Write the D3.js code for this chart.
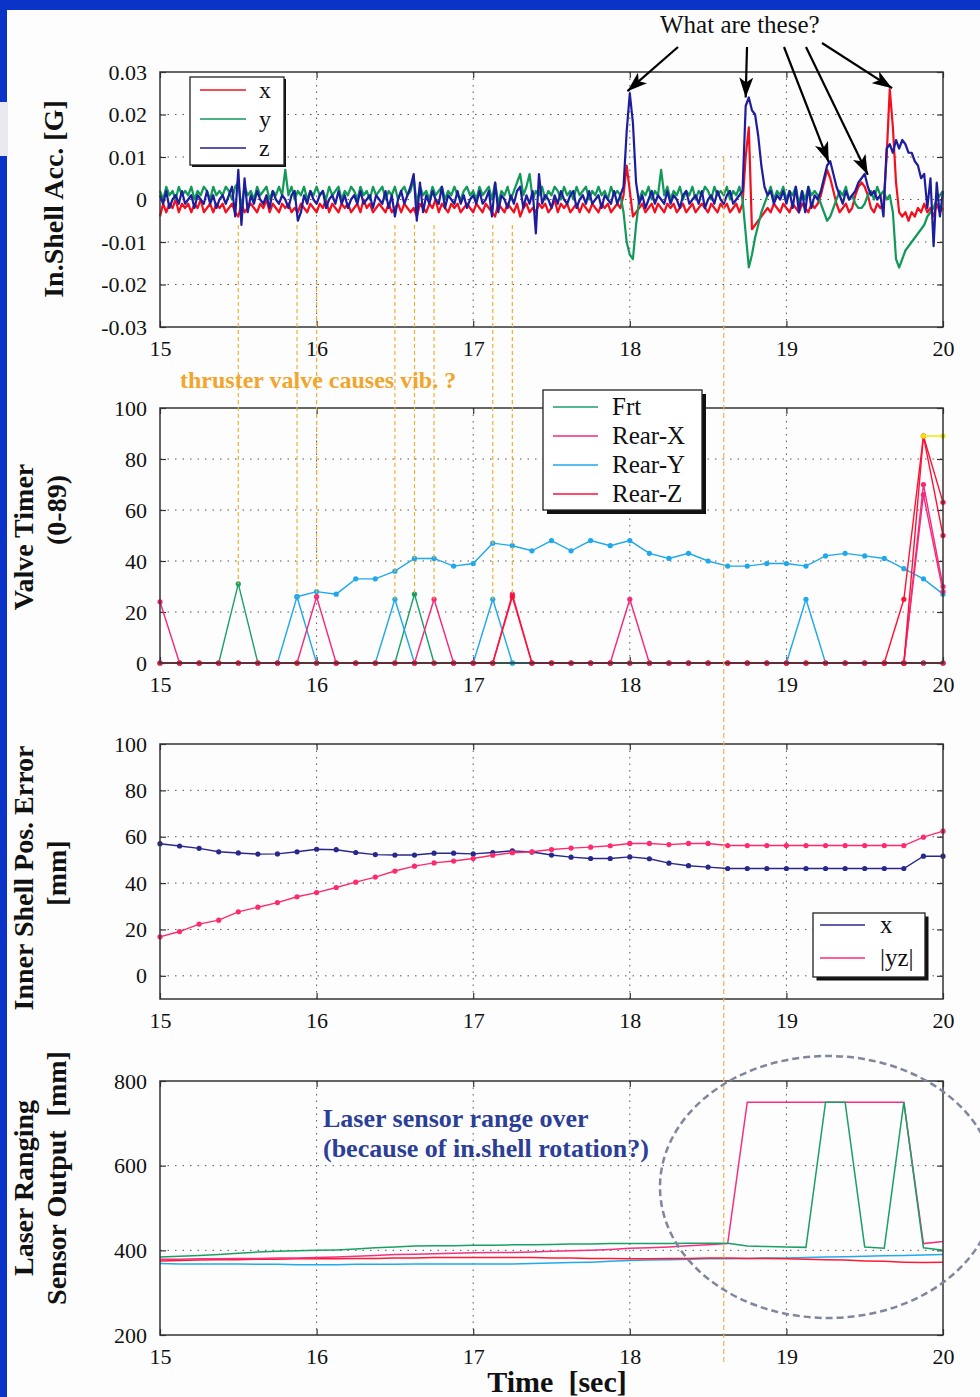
<!DOCTYPE html>
<html>
<head>
<meta charset="utf-8">
<script src="https://cdn.jsdelivr.net/npm/d3@7"></script>
<style>
  body { margin: 0; background: #fff; }
  svg { display: block; }
</style>
</head>
<body>
<div id="chart"></div>
<script>
// ---------- data ----------
const xTicks = [15, 16, 17, 18, 19, 20];

// inner shell acceleration [mG], one sample every 0.02 s from 15.00 s
const accStart = 15, accStep = 0.02;
const accX = [
  -4,-1,-3,-1,-2,0,-3,-1,-2,-1,
  -3,-1,-2,0,-3,-2,-1,-3,-1,-2,
  -1,-3,-2,-1,-3,-4,-1,-3,-2,-1,
  -2,-3,-1,-2,0,-3,-1,-2,-3,-1,
  -2,-1,-3,-2,-3,-1,-2,-3,-1,-2,
  -3,-1,-2,0,-3,-1,-2,-3,-1,-2,
  -1,-3,-2,-1,-3,0,-2,-1,-3,-2,
  -1,-2,-3,-1,-3,-2,-1,-3,-1,-2,
  -3,-2,-4,-1,-2,-3,-1,-2,0,-3,
  -1,-2,-3,-1,-2,-1,-3,-2,-1,-2,
  -3,-1,-2,-3,-1,-2,-3,-4,-1,-2,
  -3,-1,-2,-3,-1,-4,-2,-1,-3,-2,
  -3,-1,-2,-1,-3,-2,0,-3,-1,-2,
  -1,-3,-2,-1,-3,-1,-2,-3,-1,-2,
  -3,-1,-2,-1,-3,-2,-1,-2,1,8,
  2,-4,-3,-2,-1,-3,-2,-1,-3,-1,
  -2,-3,-1,-2,-1,-3,-2,-1,-3,-2,
  -1,-3,-2,-1,-2,-3,-1,-2,-3,-1,
  -2,-1,-3,-2,-1,-3,-1,10,17,-7,
  -6,-5,-4,-3,-2,-3,-1,-2,-3,-1,
  -2,-3,-1,-2,-3,-1,-2,-3,-1,-2,
  -1,1,4,7,5,2,-1,-3,-2,-1,
  -3,-2,1,3,4,3,1,-2,-3,-1,
  -2,-1,10,26,17,4,-3,-4,-3,-5,
  -3,-4,-2,-3,-1,-3,-2,-4,-1,-3,-2
];
const accY = [
  2,0,3,1,2,0,3,1,2,1,
  3,0,2,1,3,2,0,3,1,2,
  1,3,2,0,3,4,-2,3,1,2,
  0,3,1,2,3,0,2,1,3,1,
  7,1,3,0,2,1,3,0,2,1,
  3,1,2,0,3,1,2,3,0,2,
  1,3,2,0,3,1,2,0,3,1,
  2,3,0,2,1,3,0,2,3,1,
  2,5,-1,3,1,2,0,3,1,2,
  3,0,2,1,3,1,0,2,3,1,
  2,0,3,1,2,3,0,4,-1,2,
  1,3,0,2,4,6,1,3,6,0,
  2,1,3,0,2,1,3,2,0,3,
  1,2,0,3,1,2,3,0,2,1,
  3,1,2,0,3,1,2,1,-3,-10,
  -13,-14,-6,0,2,1,3,0,2,1,
  7,1,3,0,2,1,3,0,2,1,
  3,0,2,1,3,2,0,3,1,2,
  1,3,0,2,1,3,0,-8,-16,-13,
  -9,-6,-3,-1,1,3,0,2,1,3,
  0,2,1,3,-1,2,0,3,1,2,
  1,-1,-3,-5,-4,-2,0,2,1,3,
  0,1,-1,-2,-2,-1,1,2,0,3,
  1,2,0,1,-3,-14,-16,-14,-12,-11,
  -10,-9,-8,-7,-6,-4,-3,-2,0,1,2
];
const accZ = [
  1,-1,2,-2,0,1,-1,2,-1,0,
  1,-2,1,0,-1,2,-1,1,-2,0,
  1,-1,1,3,-4,7,-6,5,-3,1,
  -1,2,0,-1,1,-2,2,0,-1,1,
  0,-2,1,2,-5,-3,1,-1,2,0,
  -1,1,2,-2,0,1,-1,2,-1,1,
  -2,0,1,-1,2,-1,0,1,-2,1,
  0,-1,2,-2,1,-4,0,2,-1,1,
  3,6,-5,4,-3,1,-1,2,0,-1,
  3,-2,1,0,-1,2,-1,1,-2,0,
  1,-1,2,-1,0,2,-4,4,-3,1,
  0,-2,1,-1,2,3,-2,1,-1,2,
  -8,6,-1,1,0,-2,1,-1,2,0,
  -1,1,2,-2,0,1,-1,2,-1,0,
  1,-2,1,0,-1,2,-1,1,3,16,
  25,18,4,-1,1,-2,0,2,-1,1,
  0,-1,2,-1,1,0,-2,1,2,-1,
  0,1,-1,2,-2,0,1,-1,2,0,
  -1,1,2,-1,0,1,2,22,24,21,
  20,15,8,3,1,2,-1,1,0,2,
  -1,2,-2,3,-3,2,-3,3,-2,1,
  0,2,5,8,9,6,3,1,-1,2,
  0,1,2,4,5,6,3,1,2,0,
  1,-4,12,13,11,14,12,14,13,11,
  11,9,8,5,6,-2,5,-11,4,-4,2
];
const accTicks = [-0.03, -0.02, -0.01, 0, 0.01, 0.02, 0.03];

// valve timer, one sample every 0.125 s from 15.0 s
const slowStart = 15, slowStep = 0.125;
const valveFrt   = [0,0,0,0,31,0,0,0,0,0, 0,0,0,27,0,0,0,0,0,0, 0,0,0,0,0,0,0,0,0,0, 0,0,0,0,0,0,0,0,0,0, 0];
const valveRearX = [24,0,0,0,0,0,0,0,26,0, 0,0,0,0,25,0,0,0,27,0, 0,0,0,0,25,0,0,0,0,0, 0,0,0,0,0,0,0,0,0,70, 30];
const valveRearY = [0,0,0,0,0,0,0,26,0,0, 0,0,25,0,0,0,0,25,0,0, 0,0,0,0,0,0,0,0,0,0, 0,0,0,25,0,0,0,0,0,0, 0];
const valveRearZ = [0,0,0,0,0,0,0,0,0,0, 0,0,0,0,0,0,0,0,26,0, 0,0,0,0,0,0,0,0,0,0, 0,0,0,0,0,0,0,0,0,0, 0];
const valveRearYLevel = [null,null,null,null,null,null,null,26,28,27,
  33,33,36,41,41,38,39,47,46,44, 48,44,48,46,48,43,41,43,40,38,
  38,39,39,38,42,43,42,41,37,33, 27];
// extra traces at the end of the record, [time, value]
const valveRearX2 = [[19.75, 0], [19.875, 66], [20, 28]];
const valveRearZ2 = [[19.625, 0], [19.75, 25], [19.875, 89], [20, 63]];
const valveRearZ3 = [[19.75, 0], [19.875, 89], [20, 50]];
const valveLimit  = [[19.875, 89], [20, 89]];
const valveTicks = [0, 20, 40, 60, 80, 100];
const vibTimes = [15.5, 15.875, 16.0, 16.5, 16.625, 16.75, 17.125, 17.25];

// inner shell position error [mm]
const posX  = [57,56,55,53.5,53,52.5,52.6,53.5,54.6,54.4,
  53.2,52.3,52.1,52.1,52.9,52.9,52.6,53.2,53.9,53.4,
  52.1,51.2,50.6,50.6,51.3,50.5,48.6,47.5,46.9,46.3,
  46.3,46.3,46.3,46.3,46.3,46.3,46.3,46.3,46.3,51.6, 51.6];
const posYZ = [16.8,19.1,22.3,24,27.6,29.6,31.6,34.1,35.9,38.1,
  40.4,42.6,45.2,47.3,48.7,49.5,50.6,52,53.1,53.5,
  54.5,55.1,55.5,56.1,57.1,57.1,56.6,57.1,57.1,56.2,
  56.2,56.2,56.2,56.2,56.2,56.2,56.2,56.2,56.2,59.8, 62.4];
const posTicks = [0, 20, 40, 60, 80, 100];

// laser ranging sensor output [mm]
const laserGreen = [384,386,388,390,393,396,398,399,400,401,
  403,406,408,410,411,411,412,412,413,413,
  414,415,415,416,416,416,416,417,417,417,
  410,409,408,407,750,750,408,405,750,406, 400];
const laserPink = [379,379,380,380,381,381,382,382,383,384,
  386,388,390,391,392,393,394,395,395,396,
  398,399,400,402,405,406,408,411,413,416,
  750,750,750,750,750,750,750,750,750,416, 421];
const laserRed = [375,376,377,378,378,379,379,380,380,380,
  381,381,382,382,383,383,383,383,383,383,
  382,382,381,381,380,380,381,381,382,382,
  381,381,380,379,378,377,375,374,372,371, 372];
const laserCyan = [369,368,368,368,368,367,367,366,366,366,
  367,367,367,368,368,368,368,368,368,369,
  370,371,372,374,376,377,378,379,380,380,
  381,382,382,383,384,385,386,387,388,389, 390];
const laserTicks = [200, 400, 600, 800];

// annotation targets [time, G]
const arrowTargets = [[17.985, 0.0255], [18.74, 0.024], [19.27, 0.0088], [19.52, 0.0058], [19.675, 0.0262]];
const arrowStarts = [[678, 47], [747, 47], [784, 47], [806, 47], [822, 43]];
const markTime = 18.6;

// ---------- drawing ----------
const W = 980, H = 1397;
const serif = '"Liberation Serif", "Times New Roman", serif';
const svg = d3.select('#chart').append('svg').attr('width', W).attr('height', H);

svg.append('rect').attr('width', W).attr('height', H).attr('fill', '#fdfdfd');
svg.append('rect').attr('width', W).attr('height', 10).attr('fill', '#0a34c8');
svg.append('rect').attr('width', 7).attr('height', H).attr('fill', '#0a34c8');
svg.append('rect').attr('y', 102).attr('width', 8).attr('height', 54).attr('fill', '#e9e9ef');

const x = d3.scaleLinear().domain([15, 20]).range([160, 943]);
const left = 160, right = 943;

function styleAxis(sel) {
  sel.select('.domain').remove();
  sel.selectAll('.tick line').attr('stroke', '#333').attr('stroke-width', 1.2);
  sel.selectAll('.tick text').attr('font-family', serif).attr('font-size', 22).attr('fill', '#111');
}

function panel(top, bottom, domain, ticks, fmt) {
  const y = d3.scaleLinear().domain(domain).range([bottom, top]);
  const g = svg.append('g');
  // dotted grid
  g.append('g').selectAll('line').data(xTicks.filter(t => t > 15 && t < 20)).join('line')
    .attr('x1', d => x(d)).attr('x2', d => x(d)).attr('y1', top).attr('y2', bottom)
    .attr('stroke', '#555').attr('stroke-width', 1).attr('stroke-dasharray', '1.5,5');
  g.append('g').selectAll('line').data(ticks.filter(t => t > domain[0] && t < domain[1])).join('line')
    .attr('x1', left).attr('x2', right).attr('y1', d => y(d)).attr('y2', d => y(d))
    .attr('stroke', '#555').attr('stroke-width', 1).attr('stroke-dasharray', '1.5,6');

  g.append('g').attr('transform', `translate(${left},0)`)
    .call(d3.axisLeft(y).tickValues(ticks).tickFormat(fmt).tickSizeInner(-6).tickSizeOuter(0).tickPadding(13))
    .call(styleAxis);
  g.append('g').attr('transform', `translate(${right},0)`)
    .call(d3.axisRight(y).tickValues(ticks).tickFormat('').tickSizeInner(-6).tickSizeOuter(0))
    .call(styleAxis);
  g.append('g').attr('transform', `translate(0,${bottom})`)
    .call(d3.axisBottom(x).tickValues(xTicks).tickFormat(d3.format('d')).tickSizeInner(-6).tickSizeOuter(0).tickPadding(13))
    .call(styleAxis);
  g.append('g').attr('transform', `translate(0,${top})`)
    .call(d3.axisTop(x).tickValues(xTicks).tickFormat('').tickSizeInner(-6).tickSizeOuter(0))
    .call(styleAxis);

  const plot = svg.append('g');
  const frame = () => svg.append('rect').attr('x', left).attr('y', top)
    .attr('width', right - left).attr('height', bottom - top)
    .attr('fill', 'none').attr('stroke', '#333').attr('stroke-width', 1.5);
  return { y, plot, frame };
}

function legend(x0, y0, w, h, shadow, items, lineX, textX, rowY, size) {
  const g = svg.append('g');
  g.append('rect').attr('x', x0 + shadow).attr('y', y0 + shadow).attr('width', w).attr('height', h).attr('fill', '#111');
  g.append('rect').attr('x', x0).attr('y', y0).attr('width', w).attr('height', h)
    .attr('fill', '#fff').attr('stroke', '#222').attr('stroke-width', 1.3);
  items.forEach((it, i) => {
    g.append('line').attr('x1', lineX[0]).attr('x2', lineX[1]).attr('y1', rowY[i]).attr('y2', rowY[i])
      .attr('stroke', it.color).attr('stroke-width', 1.6);
    g.append('text').attr('x', textX).attr('y', rowY[i]).attr('dy', '0.33em')
      .attr('font-family', serif).attr('font-size', size).attr('fill', '#111').text(it.label);
  });
}

function vTitle(text, bx, cy, size) {
  svg.append('text').attr('transform', `translate(${bx},${cy}) rotate(-90)`)
    .attr('text-anchor', 'middle').attr('font-family', serif).attr('font-weight', 'bold')
    .attr('font-size', size).attr('fill', '#111').text(text);
}

// ---- panel 1: acceleration ----
const p1 = panel(72, 327, [-0.03, 0.03], accTicks, d => d === 0 ? '0' : d.toFixed(2));
const accLine = d3.line().x((d, i) => x(accStart + i * accStep)).y(d => p1.y(d / 1000));
[[accX, '#f2101e'], [accY, '#12995a'], [accZ, '#1d1d9e']].forEach(([arr, c]) => {
  p1.plot.append('path').datum(arr).attr('d', accLine)
    .attr('fill', 'none').attr('stroke', c).attr('stroke-width', 2.2).attr('stroke-linejoin', 'round');
});
p1.frame();
legend(190, 77, 94, 88, 2, [
  { label: 'x', color: '#f2101e' }, { label: 'y', color: '#12995a' }, { label: 'z', color: '#1d1d9e' }
], [200, 246], 259, [90, 119, 148], 24);
vTitle('In.Shell Acc. [G]', 63, 199, 28);

// ---- panel 2: valve timer ----
const p2 = panel(408, 663, [0, 100], valveTicks, d3.format('d'));
const slowT = i => slowStart + i * slowStep;
const vLine = d3.line().defined(d => d != null).x((d, i) => x(slowT(i))).y(d => p2.y(d));
const pLine = d3.line().x(d => x(d[0])).y(d => p2.y(d[1]));
function series(plot, yScale, arr, line, color) {
  plot.append('path').datum(arr).attr('d', line)
    .attr('fill', 'none').attr('stroke', color).attr('stroke-width', 1.4);
  plot.append('g').selectAll('circle')
    .data(arr.map((v, i) => ({ v, i })).filter(d => d.v != null)).join('circle')
    .attr('cx', d => x(slowT(d.i))).attr('cy', d => yScale(d.v)).attr('r', 2.6).attr('fill', color);
}
function pointTrace(pts, color) {
  p2.plot.append('path').datum(pts).attr('d', pLine).attr('fill', 'none').attr('stroke', color).attr('stroke-width', 1.4);
  p2.plot.append('g').selectAll('circle').data(pts).join('circle')
    .attr('cx', d => x(d[0])).attr('cy', d => p2.y(d[1])).attr('r', 2.6).attr('fill', color);
}
series(p2.plot, p2.y, valveFrt, vLine, '#1aa067');
series(p2.plot, p2.y, valveRearY, vLine, '#1fa8ec');
series(p2.plot, p2.y, valveRearYLevel, vLine, '#1fa8ec');
series(p2.plot, p2.y, valveRearX, vLine, '#f5287a');
pointTrace(valveRearX2, '#f5287a');
pointTrace(valveRearZ2, '#ff1133');
pointTrace(valveRearZ3, '#ff1133');
pointTrace(valveLimit, '#f0e400');
series(p2.plot, p2.y, valveRearZ, vLine, '#ff1133');
p2.frame();
legend(543, 390, 159, 120, 4, [
  { label: 'Frt', color: '#1aa067' }, { label: 'Rear-X', color: '#f5287a' },
  { label: 'Rear-Y', color: '#1fa8ec' }, { label: 'Rear-Z', color: '#ff1133' }
], [553, 598], 612, [407, 436, 465, 494], 25);
vTitle('Valve Timer', 33, 537, 28);
vTitle('(0-89)', 66, 510, 28);

// ---- panel 3: position error ----
const p3 = panel(744, 999, [-10, 100], posTicks, d3.format('d'));
const posLine = d3.line().x((d, i) => x(slowT(i))).y(d => p3.y(d));
series(p3.plot, p3.y, posX, posLine, '#28288c');
series(p3.plot, p3.y, posYZ, posLine, '#ff2a6e');
p3.frame();
legend(813, 913, 112, 64, 3.5, [
  { label: 'x', color: '#28288c' }, { label: '|yz|', color: '#ff2a6e' }
], [820, 865], 880, [925, 958], 25);
vTitle('Inner Shell Pos. Error', 33, 878, 28);
vTitle('[mm]', 66, 873, 28);

// ---- panel 4: laser ranging ----
const p4 = panel(1081, 1335, [200, 800], laserTicks, d3.format('d'));
const lLine = d3.line().x((d, i) => x(slowT(i))).y(d => p4.y(d));
[[laserCyan, '#22aaee'], [laserRed, '#ff1a33'], [laserPink, '#f5307e'], [laserGreen, '#1aa064']].forEach(([arr, c]) => {
  p4.plot.append('path').datum(arr).attr('d', lLine)
    .attr('fill', 'none').attr('stroke', c).attr('stroke-width', 1.5);
});
p4.frame();
vTitle('Laser Ranging', 33, 1188, 28);
vTitle('Sensor Output\u00a0 [mm]', 66, 1178, 28);

svg.append('text').attr('x', 557).attr('y', 1392).attr('text-anchor', 'middle')
  .attr('font-family', serif).attr('font-weight', 'bold').attr('font-size', 30).attr('fill', '#111')
  .text('Time\u00a0 [sec]');

// ---- annotations ----
// thruster valve firings traced up into the acceleration plot
const spikeSeries = [valveFrt, valveRearX, valveRearY, valveRearZ];
svg.append('g').selectAll('line').data(vibTimes).join('line')
  .attr('x1', d => x(d)).attr('x2', d => x(d))
  .attr('y1', p1.y(-0.006))
  .attr('y2', d => {
    const k = Math.round((d - slowStart) / slowStep);
    return p2.y(d3.max(spikeSeries, s => s[k]));
  })
  .attr('stroke', '#f2b030').attr('stroke-width', 1.2).attr('stroke-dasharray', '4,3');
svg.append('line').attr('x1', x(markTime)).attr('x2', x(markTime)).attr('y1', 157).attr('y2', 1363)
  .attr('stroke', '#f2b446').attr('stroke-width', 1.2).attr('stroke-dasharray', '5,3');

svg.append('text').attr('x', 180).attr('y', 388)
  .attr('font-family', serif).attr('font-weight', 'bold').attr('font-size', 24).attr('fill', '#f2a52c')
  .text('thruster valve causes vib. ?');

svg.append('text').attr('x', 660).attr('y', 33)
  .attr('font-family', serif).attr('font-size', 25).attr('fill', '#111').text('What are these?');

svg.append('defs').append('marker').attr('id', 'arrowHead')
  .attr('viewBox', '0 0 20 14').attr('refX', 20).attr('refY', 7)
  .attr('markerWidth', 20).attr('markerHeight', 14).attr('markerUnits', 'userSpaceOnUse').attr('orient', 'auto')
  .append('path').attr('d', 'M0,0 L20,7 L0,14 L5,7 Z').attr('fill', '#000');
svg.append('g').selectAll('line').data(arrowTargets).join('line')
  .attr('x1', (d, i) => arrowStarts[i][0]).attr('y1', (d, i) => arrowStarts[i][1])
  .attr('x2', d => x(d[0])).attr('y2', d => p1.y(d[1]))
  .attr('stroke', '#000').attr('stroke-width', 2.2).attr('marker-end', 'url(#arrowHead)');

const note = svg.append('text').attr('font-family', serif).attr('font-weight', 'bold')
  .attr('font-size', 26).attr('fill', '#2b3f98');
note.append('tspan').attr('x', 323).attr('y', 1127).text('Laser sensor range over');
note.append('tspan').attr('x', 323).attr('y', 1157).text('(because of in.shell rotation?)');

svg.append('ellipse').attr('cx', 828).attr('cy', 1187).attr('rx', 168).attr('ry', 131)
  .attr('fill', 'none').attr('stroke', '#7f869e').attr('stroke-width', 2.5).attr('stroke-dasharray', '7,4');
</script>
</body>
</html>
